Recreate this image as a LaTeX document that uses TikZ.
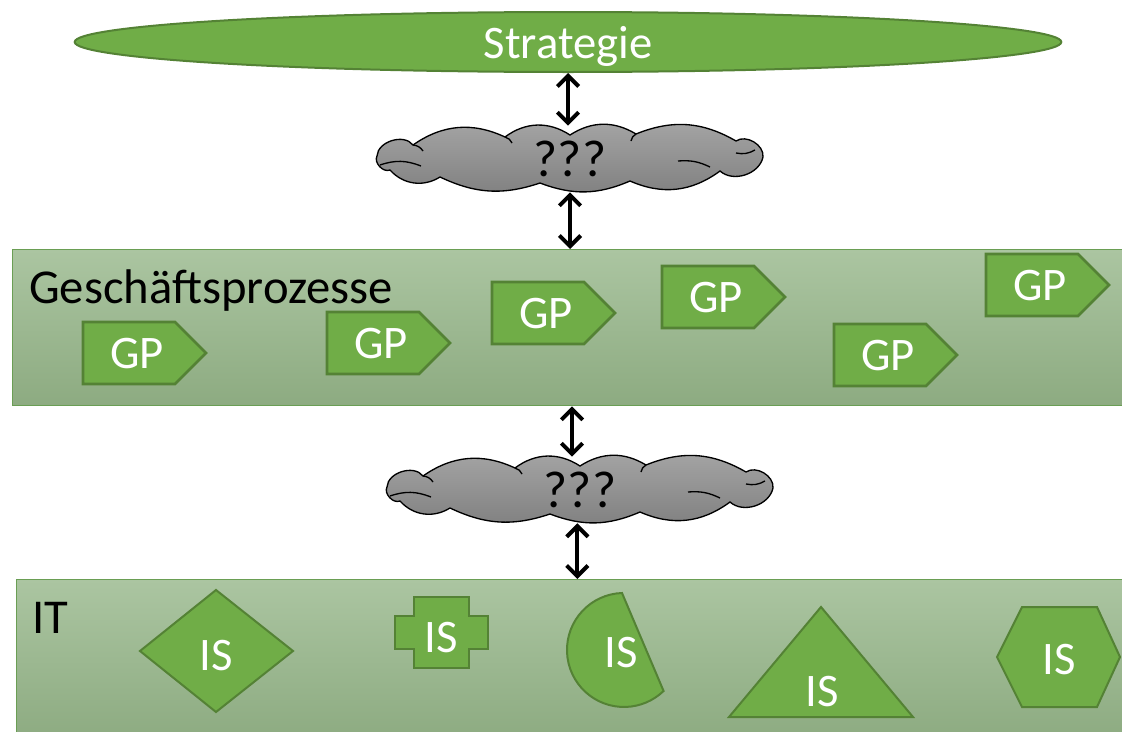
\documentclass[tikz,border=0pt]{standalone}
\usepackage{fontspec}
\setmainfont{Carlito}
\usetikzlibrary{arrows.meta,shapes.geometric}
\definecolor{officegreen}{RGB}{112,173,71}
\definecolor{stratline}{RGB}{84,130,53}
\definecolor{shapeline}{RGB}{84,130,53}
\definecolor{bandtop}{RGB}{171,197,161}
\definecolor{bandbot}{RGB}{141,171,129}
\definecolor{bandline}{RGB}{106,158,84}
\definecolor{cloudtop}{RGB}{165,165,165}
\definecolor{cloudbot}{RGB}{128,128,128}

\begin{document}
\begin{tikzpicture}[x=0.75pt,y=-0.75pt,
		lbl/.style={inner sep=0pt,text depth=0pt,text=white,font=\fontsize{35}{42}\selectfont},
		titel/.style={lbl,text=black,anchor=base west,font=\fontsize{36.5}{44}\selectfont},
		strat/.style={lbl,ellipse,draw=stratline,line width=1.5pt,fill=officegreen,minimum width=740pt,minimum height=45pt},
		wolke/.style={inner sep=0pt,text depth=0pt,minimum width=288pt,minimum height=49.5pt,font=\fontsize{39}{46}\selectfont},
		wolkenrand/.style={draw=black,line width=1pt,top color=cloudtop,bottom color=cloudbot},
		wolkenlinie/.style={draw=black,line width=1pt},
		band/.style={rectangle,draw=bandline,line width=1pt,top color=bandtop,bottom color=bandbot,anchor=north west,inner sep=0pt},
		gpshape/.style={draw=shapeline,line width=2pt,fill=officegreen},
		isshape/.style={draw=shapeline,line width=1.5pt,fill=officegreen},
		dblarrow/.style={line width=3pt,>={Straight Barb[length=8pt,width=16pt]},<->}]
		\useasboundingbox (0,0) rectangle (1122,732);
		\clip (0,0) rectangle (1122,732);
		\node[band,minimum width=838pt,minimum height=117pt] (gpband) at (12,249) {};
		\node[band,minimum width=836pt,minimum height=120pt] (itband) at (16,579) {};
		\node[titel] (gptitel) at (29,303) {Geschäftsprozesse};
		\node[titel] (ittitel) at (32,633) {IT};
		\foreach \x/\y [count=\i] in {83/322,327/312,492/282,662/266,834/324,986/254} {
			\draw[gpshape] (\x,\y) -- ++(92,0) -- ++(31,31) -- ++(-31,31) -- ++(-92,0) -- cycle;
			\node[lbl] (gp\i) at (\x+54,\y+31) {GP};
		}
		\draw[isshape] (216,590) -- (293,651) -- (216,712) -- (140,651) -- cycle;
		\draw[isshape] (414,597) -- (469,597) -- (469,616) -- (488,616) -- (488,649) -- (469,649) -- (469,668) -- (414,668) -- (414,649) -- (395,649) -- (395,616) -- (414,616) -- cycle;
		\draw[isshape] (622,593) arc [start angle=268, end angle=46, radius=57] -- cycle;
		\draw[isshape] (821,607) -- (913,717) -- (729,717) -- cycle;
		\draw[isshape] (1022,607) -- (1097,607) -- (1120,657) -- (1097,707) -- (1022,707) -- (997,657) -- cycle;
		\node[lbl] (is1) at (216,655) {IS};
		\node[lbl] (is2) at (441,637) {IS};
		\node[lbl] (is3) at (621,652) {IS};
		\node[lbl] (is4) at (822,691) {IS};
		\node[lbl] (is5) at (1059,659) {IS};
		\node[strat] (strat) at (568,42) {Strategie};
		\foreach \cx/\cy [count=\i] in {570/159,580/490} {
			\draw[wolkenrand,shift={(\cx,\cy)}] (-193,-3) to[bend left=70] (-157,-14) to[bend left=30] (-65,-22)
				to[bend left=35] (0,-24) to[bend left=32] (66,-25) to[bend left=26] (166,-18)
				to[bend left=65] (193,-2) to[bend left=60] (150,12) to[bend left=30] (60,22)
				to[bend left=22] (-30,24) to[bend left=22] (-130,18) to[bend left=40] (-180,11)
				to[bend left=70] (-193,-3) -- cycle;
			\draw[wolkenlinie,shift={(\cx,\cy)}] (-190,6) to[bend left=20] (-149,7)
				(-157,-14) to[bend left=25] (-147,-8) (-65,-22) to[bend left=25] (-58,-16)
				(66,-25) to[bend right=25] (61,-18) (166,-6) to[bend right=20] (185,-9)
				(108,2) to[bend left=15] (140,8);
			\node[wolke] (wolke\i) at (\cx,\cy) {???};
		}
		\draw[dblarrow] (strat.south) -- (strat.south |- wolke1.north);
		\draw[dblarrow] (wolke1.south) -- (wolke1.south |- gpband.north);
		\draw[dblarrow] ([xshift=-6pt]wolke2.north |- gpband.south) -- ([xshift=-6pt]wolke2.north);
		\draw[dblarrow] ([xshift=-2pt]wolke2.south) -- ([xshift=-2pt]wolke2.south |- itband.north);
	\end{tikzpicture}
\end{document}
